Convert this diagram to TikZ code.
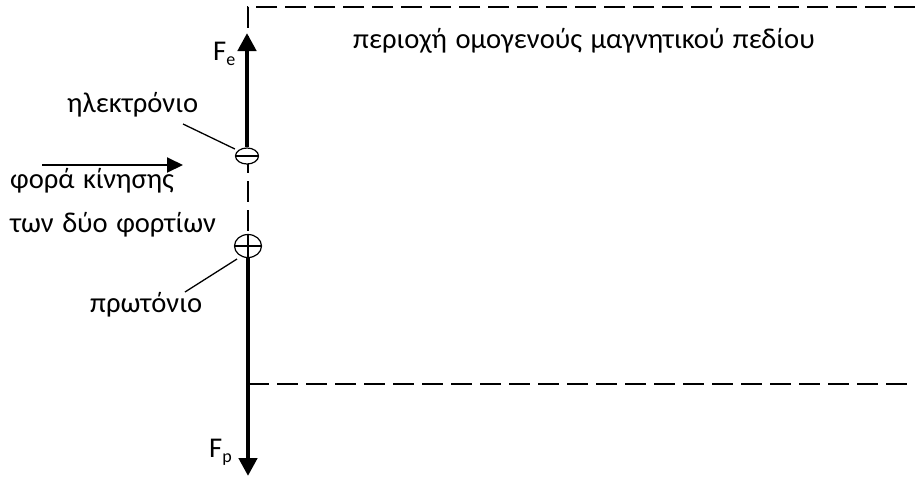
\documentclass[tikz,border=0pt]{standalone}
\usepackage{fontspec}
\setmainfont{Carlito}
\usetikzlibrary{arrows.meta,shapes.geometric}
\newcommand{\lblfont}{\fontsize{28.6}{32}\selectfont\spaceskip 8.5pt\relax}
\begin{document}
\begin{tikzpicture}[x=1pt,y=-1pt,
  lbl/.style={anchor=base west,inner sep=0pt,font={\lblfont}},
  region/.style={line width=2.2pt,dash pattern=on 21pt off 8pt},
  force/.style={line width=4.5pt,-{Triangle[width=18pt,length=18pt]}},
  leader/.style={line width=1.3pt},
  motion/.style={line width=2pt,-{Triangle[width=15pt,length=16pt]}},
  charge/.style={ellipse,draw,line width=1.2pt,fill=white,inner sep=0pt},
  sign/.style={line width=2pt}
]
\useasboundingbox (0,0) rectangle (915,477);
% region
\coordinate (rtr) at (915,7);
\coordinate (rtl) at (248,7);
\coordinate (rbl) at (248,384);
\coordinate (rbr) at (915,384);
\draw[region] (rtr) -- (rtl) -- (rbl) -- (rbr);
% charges
\node[charge,minimum width=23pt,minimum height=16pt] (electron) at (247,156) {};
\node[charge,minimum width=27pt,minimum height=23pt] (proton) at (248,246) {};
\draw[sign] (electron.west) -- (electron.east);
\draw[sign] (proton.west) -- (proton.east);
\draw[sign] (proton.north) -- (proton.south);
% forces
\coordinate (fetip) at (247,33);
\coordinate (fptip) at (248,476);
\draw[force] (electron.north) -- (fetip);
\draw[force] (proton.south) -- (fptip);
% labels
\node[lbl] (region label) at (353,48) {περιοχή ομογενούς μαγνητικού πεδίου};
\node[lbl] (fe) at (213,60) {F\raisebox{-5pt}{\fontsize{18}{20}\selectfont e}};
\node[lbl] (fp) at (209,457) {F\raisebox{-5pt}{\fontsize{18}{20}\selectfont p}};
\node[lbl] (elabel) at (67,112) {ηλεκτρόνιο};
\node[lbl] (plabel) at (90,312) {πρωτόνιο};
\node[lbl] (motion1) at (10,188) {φορά κίνησης};
\node[lbl] (motion2) at (10,232) {των δύο φορτίων};
% leaders
\coordinate (el) at (183,124);
\coordinate (pl) at (185,292);
\draw[leader] (el) -- (electron.west |- 0,149);
\draw[leader] (pl) -- (237,259);
% motion arrow
\coordinate (ms) at (42,165);
\coordinate (me) at (183,165);
\draw[motion] (ms) -- (me);
\end{tikzpicture}
\end{document}
